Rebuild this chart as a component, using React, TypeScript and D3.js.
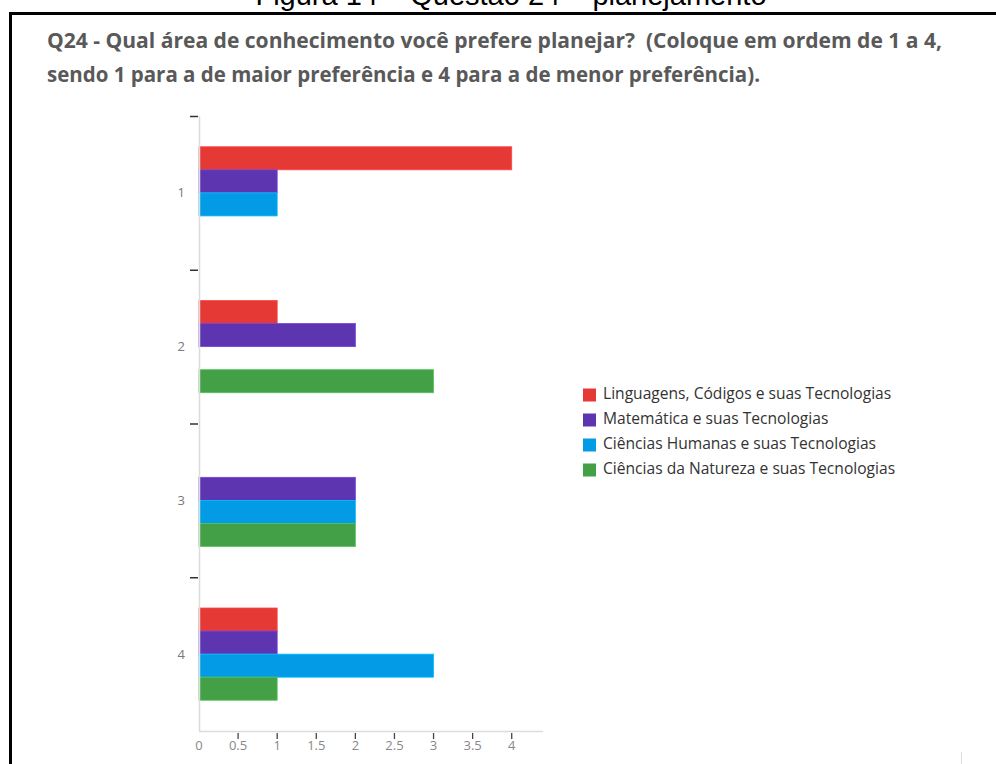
import React from "react";
import * as d3 from "d3";

const categories = ["1", "2", "3", "4"];
const seriesNames = [
  "Linguagens, Códigos e suas Tecnologias",
  "Matemática e suas Tecnologias",
  "Ciências Humanas e suas Tecnologias",
  "Ciências da Natureza e suas Tecnologias",
];
const seriesColors = ["#e53935", "#5e35b1", "#039be5", "#43a047"];
const linguagens = [4, 1, 0, 1];
const matematica = [1, 2, 2, 1];
const humanas = [1, 0, 2, 3];
const natureza = [0, 3, 2, 1];
const xTicks = [0, 0.5, 1, 1.5, 2, 2.5, 3, 3.5, 4];
const titleLines = [
  "Q24 - Qual área de conhecimento você prefere planejar?\u00a0 (Coloque em ordem de 1 a 4,",
  "sendo 1 para a de maior preferência e 4 para a de menor preferência).",
];
const caption = "Figura 14 – Questão 24 – planejamento";

export default function App() {
  const W = 996, H = 764;
  const values = [linguagens, matematica, humanas, natureza];
  const x = d3.scaleLinear().domain([0, 4.4]).range([199, 543]);
  const y = d3.scaleBand().domain(categories).range([116, 731]).padding(0);
  const bw = y.bandwidth();
  const inner = d3.scaleBand().domain(seriesNames).range([bw * 0.2, bw * 0.8]).padding(0);
  const fmt = (v: number) => String(v);

  return (
    <svg width={W} height={H} style={{ position: "absolute", left: 0, top: 0, background: "#fff" }}
      fontFamily="Roboto, 'Noto Sans', sans-serif">
      <rect x={0} y={0} width={W} height={H} fill="#fff" />
      <text x={511} y={5} textAnchor="middle" fontFamily="'Liberation Sans', Arial, sans-serif" fontSize={29} fill="#000">{caption}</text>
      {/* frame */}
      <line x1={10.5} y1={13.5} x2={W + 5} y2={13.5} stroke="#000" strokeWidth={3} />
      <line x1={10.5} y1={12} x2={10.5} y2={H + 5} stroke="#000" strokeWidth={3} />
      {/* title */}
      <text x={47} y={48} fontFamily="'Open Sans', sans-serif" fontWeight={700} fontSize={22} fill="#595959"
        textLength={895} lengthAdjust="spacingAndGlyphs">{titleLines[0]}</text>
      <text x={47} y={82} fontFamily="'Open Sans', sans-serif" fontWeight={700} fontSize={22} fill="#595959"
        textLength={713} lengthAdjust="spacingAndGlyphs">{titleLines[1]}</text>

      {/* bars */}
      {categories.map((c, ci) => (
        <g key={c} transform={`translate(0,${y(c)})`}>
          {seriesNames.map((s, si) => {
            const v = values[si][ci];
            if (!v) return null;
            return (
              <rect key={s} x={x(0)} y={inner(s)} width={x(v) - x(0)} height={inner.bandwidth()}
                fill={seriesColors[si]} stroke={d3.color(seriesColors[si])!.brighter(0.6).formatHex()} strokeWidth={0.8} />
            );
          })}
        </g>
      ))}

      {/* y axis */}
      <line x1={199.5} y1={116} x2={199.5} y2={731} stroke="#dcdcdc" strokeWidth={1.5} />
      {categories.map((c) => (
        <g key={c}>
          <line x1={190} x2={198} y1={(y(c) as number) + 0.5} y2={(y(c) as number) + 0.5} stroke="#333" strokeWidth={1.5} />
          <text x={185} y={(y(c) as number) + bw / 2 + 1} textAnchor="end" dominantBaseline="middle" fontFamily="'Open Sans', sans-serif" fontSize={13} fill="#7a7a7a">{c}</text>
        </g>
      ))}

      {/* x axis */}
      <line x1={199} y1={731.5} x2={543} y2={731.5} stroke="#dcdcdc" strokeWidth={1.5} />
      {xTicks.map((t) => (
        <g key={t}>
          {t !== 0 && <line x1={x(t)} x2={x(t)} y1={733} y2={739} stroke="#444" strokeWidth={1.3} />}
          <text x={x(t)} y={747} textAnchor="middle" dominantBaseline="middle" fontFamily="'Open Sans', sans-serif" fontSize={13} fill="#888">{fmt(t)}</text>
        </g>
      ))}

      {/* legend */}
      {seriesNames.map((s, i) => (
        <g key={s} transform={`translate(583,${395 + i * 25})`}>
          <rect x={0} y={-6.5} width={13} height={13} fill={seriesColors[i]} />
          <text x={20} y={0} dominantBaseline="middle" fontFamily="'Open Sans', sans-serif" fontSize={15.6} fill="#333">{s}</text>
        </g>
      ))}

      <line x1={961.5} y1={752} x2={961.5} y2={H} stroke="#ddd" strokeWidth={1} />
    </svg>
  );
}
